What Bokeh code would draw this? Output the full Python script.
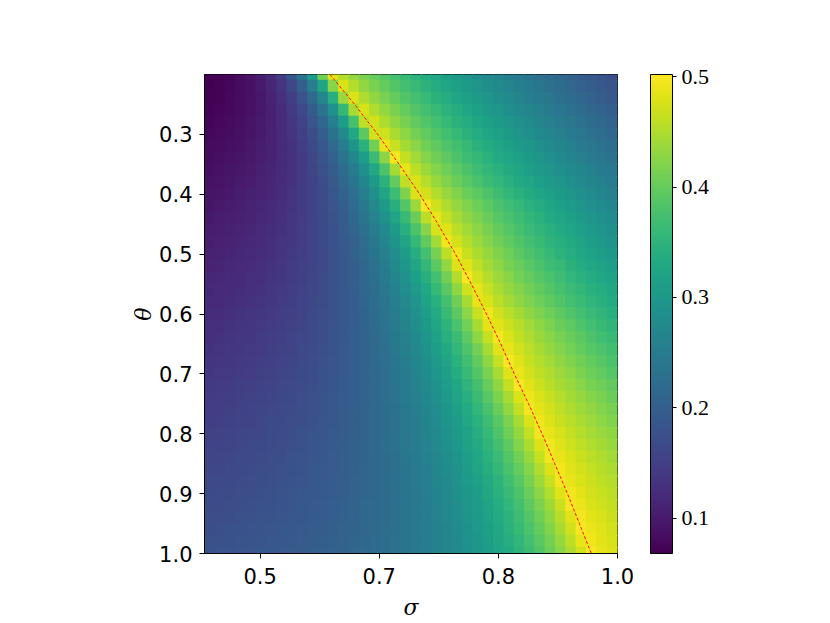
from bokeh.plotting import figure
from bokeh.models import (Range1d, FixedTicker, ColorBar, LinearColorMapper,
                          ColumnDataSource, PrintfTickFormatter)
from bokeh.palettes import Viridis256
from bokeh.embed import file_html
from bokeh.resources import INLINE

# ---- data ----
SIGMA = [0.4865, 0.4995, 0.5125, 0.5255, 0.5385, 0.5515, 0.5645, 0.5775, 0.5905, 0.6035,
         0.6165, 0.6295, 0.6425, 0.6555, 0.6685, 0.6815, 0.6945, 0.7075, 0.7205, 0.7335,
         0.7465, 0.7595, 0.7725, 0.7855, 0.7985, 0.8115, 0.8245, 0.8375, 0.8505, 0.8635,
         0.8765, 0.8895, 0.9025, 0.9155, 0.9285, 0.9415, 0.9545, 0.9675, 0.9805, 0.9935]
THETA = [0.20, 0.22, 0.24, 0.26, 0.28, 0.30, 0.32, 0.34, 0.36, 0.38,
         0.40, 0.42, 0.44, 0.46, 0.48, 0.50, 0.52, 0.54, 0.56, 0.58,
         0.60, 0.62, 0.64, 0.66, 0.68, 0.70, 0.72, 0.74, 0.76, 0.78,
         0.80, 0.82, 0.84, 0.86, 0.88, 0.90, 0.92, 0.94, 0.96, 0.98, 1.00]

# heat-map values x 1000, one row per THETA (top to bottom), one column per SIGMA
VALUES_X1000 = [
    [68, 71, 76, 82, 91, 104, 122, 148, 184, 235, 308, 411, 481, 454, 433, 416, 401, 387, 373, 361, 348, 337, 326, 315, 305, 294, 284, 275, 265, 256, 247, 238, 229, 221, 212, 204, 196, 188, 180, 172],
    [69, 72, 76, 82, 89, 100, 114, 134, 162, 200, 253, 325, 425, 478, 452, 432, 415, 400, 386, 372, 360, 348, 336, 325, 314, 304, 294, 284, 274, 265, 256, 247, 238, 229, 221, 212, 204, 196, 188, 180],
    [70, 73, 77, 82, 89, 98, 111, 127, 149, 179, 218, 271, 342, 436, 477, 451, 432, 415, 400, 385, 372, 360, 347, 336, 325, 314, 304, 294, 284, 274, 265, 256, 247, 238, 229, 221, 212, 204, 196, 188],
    [72, 75, 78, 83, 90, 98, 108, 122, 141, 164, 195, 235, 288, 357, 446, 476, 451, 431, 415, 399, 385, 372, 360, 348, 336, 325, 315, 304, 294, 285, 275, 266, 257, 248, 239, 230, 222, 213, 205, 197],
    [75, 77, 81, 85, 92, 99, 108, 121, 137, 156, 182, 214, 255, 308, 375, 461, 473, 449, 430, 413, 398, 384, 372, 359, 347, 336, 325, 314, 304, 294, 285, 275, 266, 257, 248, 240, 231, 222, 214, 206],
    [77, 80, 83, 88, 93, 100, 109, 120, 133, 150, 171, 198, 232, 274, 326, 392, 474, 470, 447, 428, 412, 397, 384, 371, 359, 347, 336, 325, 314, 304, 295, 285, 276, 267, 257, 249, 240, 232, 223, 215],
    [80, 83, 86, 90, 96, 102, 110, 120, 132, 147, 166, 188, 216, 251, 293, 345, 410, 490, 466, 444, 426, 410, 396, 382, 370, 358, 346, 335, 324, 314, 304, 294, 285, 275, 266, 258, 249, 240, 232, 224],
    [83, 86, 89, 93, 98, 104, 111, 120, 131, 145, 161, 180, 204, 233, 268, 311, 363, 426, 496, 462, 441, 424, 408, 394, 381, 368, 357, 345, 334, 324, 313, 304, 294, 285, 275, 266, 257, 249, 240, 232],
    [86, 89, 92, 96, 100, 106, 113, 122, 132, 144, 158, 175, 196, 221, 250, 286, 329, 381, 444, 486, 458, 438, 421, 406, 392, 380, 367, 356, 345, 334, 323, 313, 303, 294, 285, 275, 267, 258, 249, 241],
    [89, 91, 95, 99, 103, 109, 115, 123, 132, 143, 156, 171, 189, 211, 237, 267, 304, 347, 398, 460, 479, 454, 435, 419, 404, 391, 378, 366, 355, 344, 333, 323, 313, 303, 294, 285, 276, 267, 258, 250],
    [92, 94, 98, 102, 106, 112, 117, 125, 133, 143, 155, 169, 185, 205, 227, 254, 286, 323, 367, 418, 479, 474, 452, 435, 419, 405, 392, 380, 368, 356, 345, 335, 325, 314, 305, 295, 286, 277, 268, 259],
    [95, 98, 101, 105, 109, 114, 120, 127, 135, 144, 155, 167, 182, 200, 220, 244, 272, 304, 342, 386, 437, 498, 470, 451, 434, 419, 406, 393, 381, 369, 358, 346, 336, 325, 315, 306, 296, 287, 277, 268],
    [99, 101, 104, 108, 112, 117, 122, 129, 136, 145, 155, 166, 180, 196, 214, 235, 260, 289, 322, 360, 405, 457, 488, 464, 446, 430, 416, 403, 390, 378, 367, 355, 345, 334, 324, 314, 304, 295, 286, 277],
    [102, 105, 108, 111, 115, 120, 125, 131, 138, 146, 155, 166, 178, 193, 210, 229, 251, 276, 305, 340, 379, 424, 476, 480, 459, 442, 426, 413, 400, 387, 376, 364, 354, 343, 333, 323, 313, 303, 294, 285],
    [105, 108, 111, 114, 118, 122, 127, 133, 139, 147, 156, 166, 177, 190, 205, 223, 243, 265, 292, 322, 357, 396, 442, 493, 473, 453, 437, 423, 409, 396, 384, 373, 362, 351, 341, 331, 321, 311, 302, 293],
    [108, 110, 113, 117, 120, 124, 129, 135, 141, 148, 156, 165, 176, 188, 202, 218, 236, 257, 280, 307, 338, 373, 413, 458, 491, 466, 448, 433, 419, 406, 393, 381, 370, 359, 349, 339, 329, 319, 309, 300],
    [111, 113, 116, 120, 123, 127, 132, 137, 143, 150, 157, 166, 176, 188, 200, 215, 232, 251, 272, 297, 324, 356, 392, 432, 479, 480, 460, 443, 429, 415, 403, 391, 379, 368, 358, 347, 337, 328, 318, 309],
    [114, 116, 119, 122, 126, 129, 134, 139, 145, 151, 159, 167, 177, 187, 199, 213, 228, 246, 265, 287, 313, 341, 373, 410, 451, 498, 472, 454, 438, 425, 412, 400, 388, 377, 367, 356, 346, 337, 327, 318],
    [117, 119, 122, 125, 128, 132, 137, 142, 147, 153, 160, 168, 177, 187, 198, 211, 225, 241, 259, 280, 303, 329, 358, 391, 428, 470, 487, 465, 449, 434, 421, 409, 397, 386, 375, 365, 355, 345, 336, 327],
    [120, 122, 125, 128, 131, 135, 139, 144, 149, 155, 162, 169, 178, 187, 198, 209, 223, 238, 254, 273, 294, 318, 344, 374, 408, 445, 487, 478, 459, 444, 430, 418, 406, 394, 384, 373, 363, 354, 344, 335],
    [123, 125, 128, 131, 134, 138, 142, 146, 151, 157, 163, 170, 178, 187, 197, 208, 221, 235, 251, 268, 288, 310, 334, 362, 393, 427, 466, 493, 473, 457, 443, 430, 418, 406, 395, 384, 373, 363, 353, 344],
    [126, 128, 131, 133, 137, 140, 144, 148, 153, 159, 165, 172, 179, 188, 197, 208, 220, 233, 248, 264, 282, 303, 325, 350, 379, 411, 446, 485, 485, 469, 455, 442, 429, 417, 405, 394, 383, 373, 362, 352],
    [129, 131, 134, 136, 139, 143, 146, 151, 155, 160, 166, 173, 180, 188, 197, 207, 218, 230, 244, 259, 276, 296, 316, 340, 366, 395, 428, 464, 496, 478, 463, 450, 437, 425, 414, 403, 392, 381, 371, 361],
    [132, 134, 137, 139, 142, 145, 149, 153, 157, 163, 168, 174, 181, 189, 197, 206, 217, 228, 241, 255, 272, 289, 309, 331, 355, 382, 412, 446, 483, 487, 472, 458, 445, 433, 422, 411, 400, 390, 380, 370],
    [135, 137, 139, 142, 144, 148, 151, 155, 159, 164, 170, 175, 182, 189, 197, 206, 216, 226, 239, 252, 267, 284, 302, 322, 345, 370, 398, 429, 464, 499, 480, 466, 454, 442, 430, 419, 409, 399, 389, 379],
    [138, 140, 142, 145, 147, 150, 154, 158, 162, 166, 171, 177, 183, 189, 197, 206, 215, 225, 236, 249, 263, 279, 296, 315, 336, 360, 386, 414, 446, 481, 489, 474, 461, 450, 438, 428, 417, 407, 398, 388],
    [141, 143, 145, 148, 150, 153, 156, 160, 164, 168, 173, 178, 184, 191, 198, 206, 214, 224, 235, 247, 260, 275, 291, 309, 328, 350, 374, 401, 430, 463, 499, 483, 469, 457, 446, 436, 425, 415, 406, 397],
    [144, 146, 148, 150, 153, 156, 159, 162, 166, 170, 175, 180, 185, 192, 198, 206, 214, 223, 234, 245, 257, 271, 286, 303, 321, 341, 364, 389, 416, 446, 479, 491, 477, 465, 454, 443, 433, 424, 414, 405],
    [147, 148, 150, 152, 155, 158, 161, 164, 168, 172, 176, 181, 186, 192, 199, 206, 214, 222, 232, 243, 254, 267, 281, 297, 314, 333, 355, 378, 403, 431, 462, 496, 485, 472, 461, 450, 440, 431, 422, 413],
    [149, 151, 153, 155, 157, 160, 163, 166, 170, 173, 177, 182, 187, 193, 199, 206, 214, 222, 231, 241, 252, 264, 277, 292, 308, 326, 346, 367, 391, 417, 446, 478, 493, 479, 468, 457, 447, 438, 429, 420],
    [152, 154, 155, 158, 160, 162, 166, 168, 172, 176, 180, 184, 189, 194, 200, 207, 214, 222, 231, 240, 250, 262, 275, 288, 304, 320, 339, 359, 382, 406, 433, 462, 495, 486, 475, 464, 454, 445, 436, 428],
    [155, 157, 158, 161, 163, 165, 168, 171, 174, 178, 182, 186, 191, 196, 202, 208, 215, 223, 231, 240, 250, 261, 272, 285, 300, 316, 333, 352, 373, 395, 421, 448, 479, 494, 481, 471, 461, 452, 443, 435],
    [158, 159, 161, 163, 165, 167, 170, 173, 176, 179, 183, 187, 192, 197, 202, 208, 214, 222, 229, 238, 248, 258, 269, 282, 295, 310, 327, 345, 364, 386, 409, 435, 464, 495, 488, 477, 467, 458, 450, 442],
    [160, 162, 163, 165, 167, 170, 172, 175, 178, 181, 185, 189, 193, 198, 203, 209, 215, 222, 229, 237, 246, 256, 267, 279, 291, 306, 321, 338, 357, 377, 399, 424, 450, 479, 494, 483, 473, 464, 456, 448],
    [163, 164, 166, 168, 170, 172, 174, 177, 180, 183, 186, 190, 194, 199, 204, 209, 215, 222, 229, 236, 245, 255, 265, 276, 288, 301, 316, 332, 349, 369, 390, 413, 438, 465, 495, 488, 478, 469, 461, 453],
    [165, 167, 168, 170, 172, 174, 176, 179, 182, 185, 188, 191, 195, 200, 205, 210, 215, 222, 228, 236, 244, 253, 262, 273, 285, 297, 311, 326, 343, 361, 381, 403, 426, 452, 480, 494, 484, 474, 466, 458],
    [168, 169, 170, 172, 174, 176, 178, 181, 184, 187, 190, 193, 197, 201, 206, 211, 216, 222, 228, 236, 243, 252, 261, 271, 283, 294, 308, 322, 337, 355, 373, 394, 416, 440, 467, 496, 489, 479, 471, 463],
    [170, 171, 173, 175, 176, 179, 181, 183, 186, 188, 191, 195, 198, 202, 207, 212, 217, 222, 229, 236, 243, 251, 260, 270, 280, 292, 304, 318, 333, 349, 367, 386, 407, 430, 455, 483, 494, 484, 476, 468],
    [173, 174, 175, 177, 179, 181, 183, 185, 188, 190, 193, 196, 200, 204, 208, 212, 218, 223, 229, 236, 243, 250, 259, 268, 278, 289, 301, 314, 328, 343, 360, 379, 399, 420, 445, 470, 499, 489, 480, 472],
    [175, 176, 178, 179, 181, 183, 185, 187, 190, 192, 195, 198, 202, 205, 209, 214, 219, 224, 230, 236, 243, 250, 258, 267, 276, 287, 298, 311, 324, 339, 354, 372, 391, 412, 434, 459, 486, 493, 484, 476],
    [178, 179, 181, 182, 184, 186, 188, 190, 192, 195, 197, 201, 204, 207, 211, 216, 220, 225, 231, 237, 243, 250, 258, 266, 275, 285, 296, 308, 321, 334, 350, 366, 384, 404, 425, 448, 474, 499, 488, 479],
]

# red dashed ridge line (sigma where the value peaks, per theta)
RIDGE_THETA = [0.20, 0.25, 0.30, 0.35, 0.40, 0.45, 0.50, 0.55, 0.60, 0.65,
               0.70, 0.75, 0.80, 0.85, 0.90, 0.95, 1.00]
RIDGE_SIGMA = [0.638, 0.669, 0.698, 0.725, 0.751, 0.774, 0.796, 0.816, 0.835, 0.853,
               0.870, 0.888, 0.905, 0.921, 0.937, 0.952, 0.967]

X_TICKS = [0.55, 0.70, 0.85, 1.0]
X_TICK_LABELS = ["0.5", "0.7", "0.8", "1.0"]
Y_TICKS = [0.3, 0.4, 0.5, 0.6, 0.7, 0.8, 0.9, 1.0]
CBAR_TICKS = [0.1, 0.2, 0.3, 0.4, 0.5]
VMIN, VMAX = 0.068, 0.502

# ---- build the cells ----
xs, ys, vs = [], [], []
for i, th in enumerate(THETA):
    for j, s in enumerate(SIGMA):
        xs.append(s)
        ys.append(th)
        vs.append(VALUES_X1000[i][j] / 1000.0)
dx = SIGMA[1] - SIGMA[0]
dy = THETA[1] - THETA[0]
src = ColumnDataSource(dict(x=xs, y=ys, v=vs))

mapper = LinearColorMapper(palette=Viridis256, low=VMIN, high=VMAX)

p = figure(frame_width=413, frame_height=479,
           x_range=Range1d(SIGMA[0] - dx / 2, SIGMA[-1] + dx / 2),
           y_range=Range1d(THETA[-1], THETA[0]),
           output_backend="svg", toolbar_location=None,
           min_border_left=204, min_border_top=74, min_border_bottom=60,
           min_border_right=150)

# cells slightly enlarged so that no hairline seams show between them
p.rect(x="x", y="y", width=dx * 1.12, height=dy * 1.12, source=src,
       fill_color={"field": "v", "transform": mapper}, line_color=None)

p.line(RIDGE_SIGMA, RIDGE_THETA, line_color="red", line_width=1, line_dash="3 2")

p.grid.visible = False
p.outline_line_color = "black"
p.outline_line_width = 1
p.outline_line_alpha = 1
p.background_fill_color = "white"
p.border_fill_color = "white"

p.xaxis.ticker = FixedTicker(ticks=X_TICKS)
p.xaxis.major_label_overrides = {t: l for t, l in zip(X_TICKS, X_TICK_LABELS)}
p.yaxis.ticker = FixedTicker(ticks=Y_TICKS)
p.yaxis.formatter = PrintfTickFormatter(format="%.1f")

for ax in (p.xaxis[0], p.yaxis[0]):
    ax.major_tick_in = 0
    ax.major_tick_out = 5
    ax.minor_tick_line_color = None
    ax.axis_line_color = "black"
    ax.major_tick_line_color = "black"
    ax.major_label_text_font = "DejaVu Sans"
    ax.major_label_text_font_size = "21px"
    ax.major_label_text_color = "black"
    ax.axis_label_text_font = "DejaVu Serif"
    ax.axis_label_text_font_style = "italic"
    ax.axis_label_text_font_size = "22px"
    ax.axis_label_text_color = "black"

p.xaxis.axis_label = "σ"
p.yaxis.axis_label = "θ"
p.xaxis.major_label_standoff = 9
p.yaxis.major_label_standoff = 7
p.xaxis.axis_label_standoff = 8
p.yaxis.axis_label_standoff = 0

cb = ColorBar(color_mapper=mapper, ticker=FixedTicker(ticks=CBAR_TICKS),
              formatter=PrintfTickFormatter(format="%.1f"),
              width=22, height=479, padding=0, margin=0, location=(33, 0),
              major_tick_in=0, major_tick_out=4, major_tick_line_color="black",
              minor_tick_line_color=None,
              bar_line_color="black", bar_line_width=1,
              major_label_text_font="Liberation Serif",
              major_label_text_color="black",
              major_label_text_font_size="22px", label_standoff=5,
              background_fill_color=None, border_line_color=None)
p.add_layout(cb, "right")

open("out.html", "w").write(file_html(p, INLINE))
